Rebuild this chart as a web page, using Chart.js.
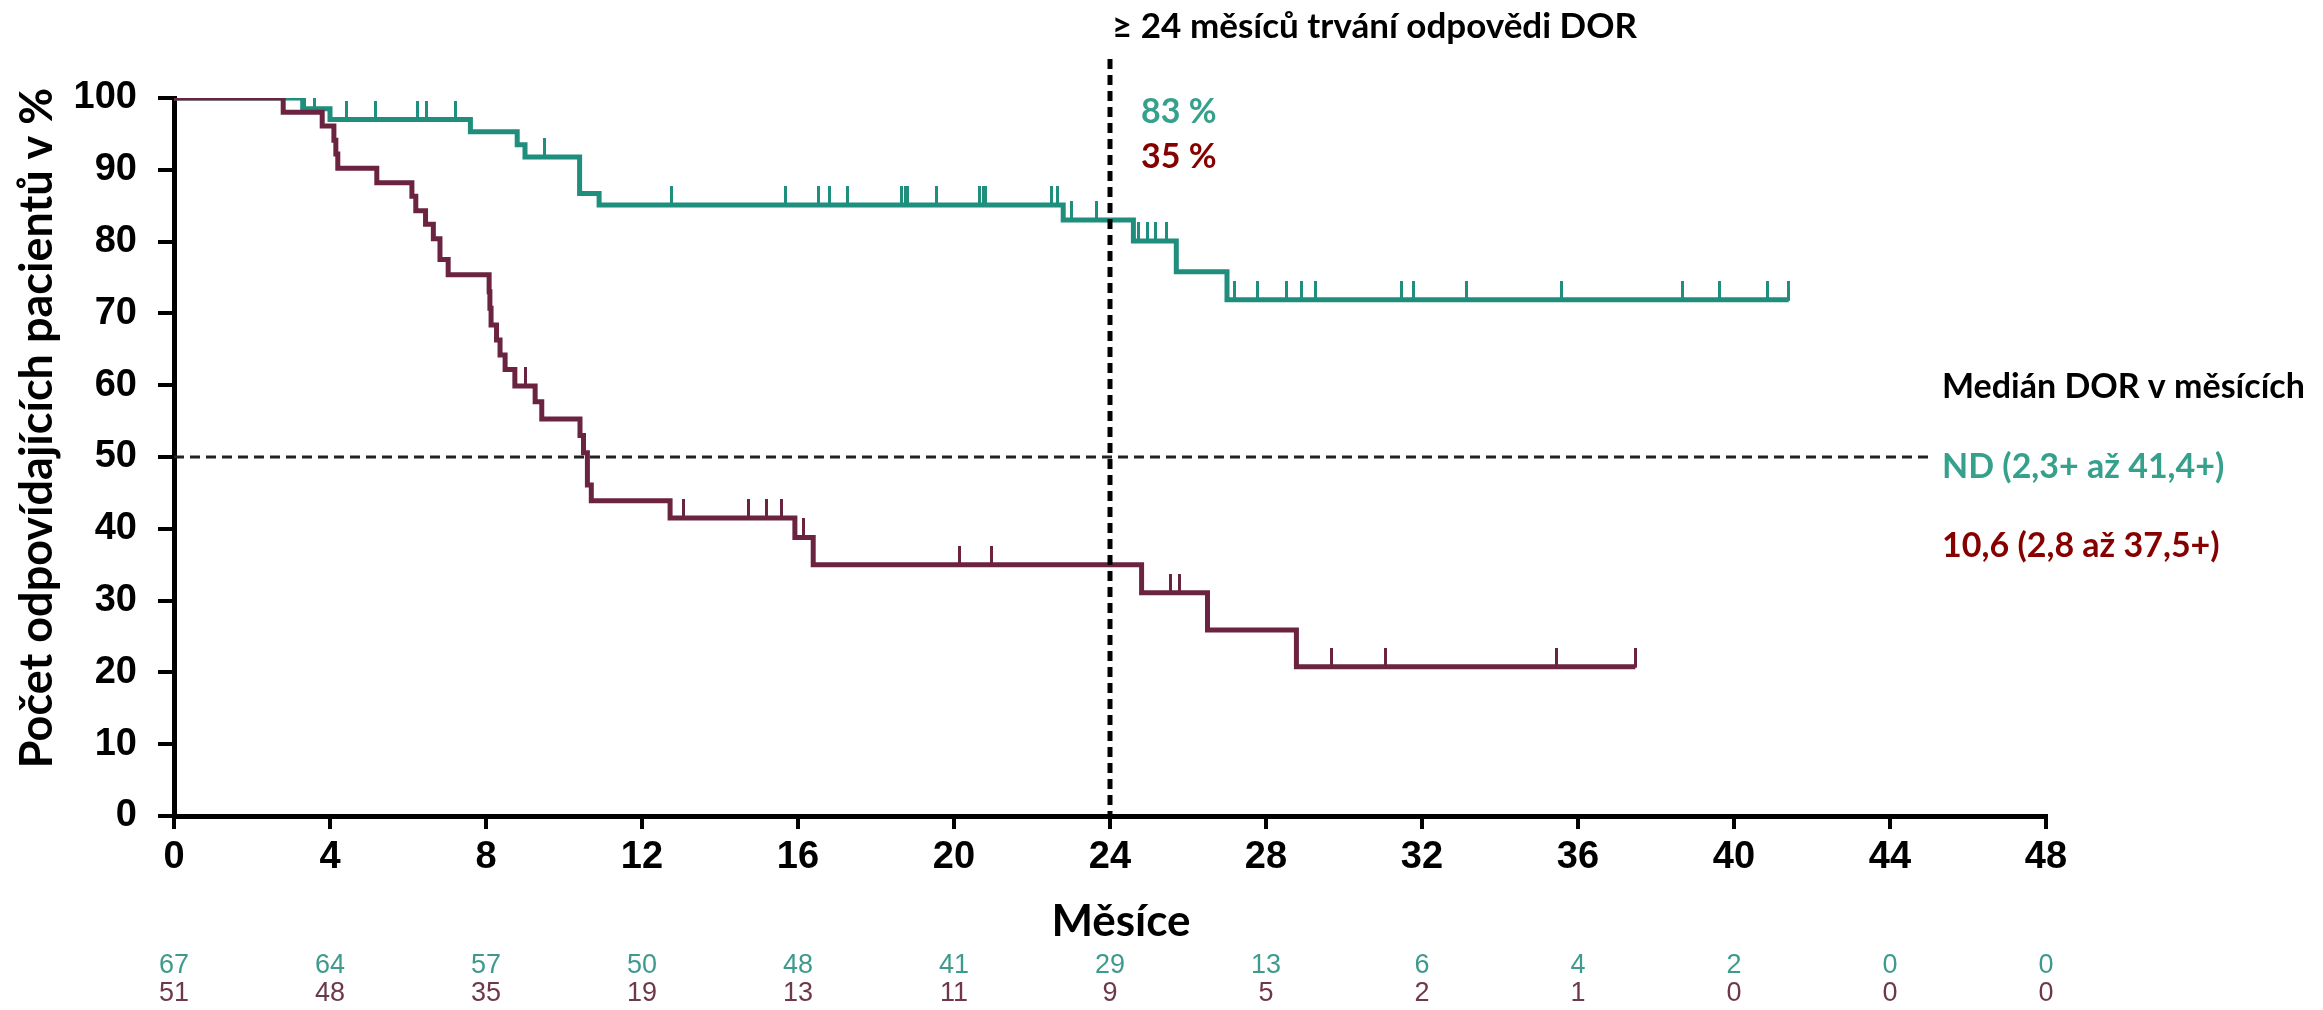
<!DOCTYPE html>
<html>
<head>
<meta charset="utf-8">
<script src="https://cdn.jsdelivr.net/npm/chart.js@4.4.1/dist/chart.umd.min.js"></script>
<style>
  html, body { margin: 0; padding: 0; background: #ffffff; }
  #wrap { width: 2323px; height: 1010px; position: relative; }
</style>
</head>
<body>
<div id="wrap"><canvas id="km" width="2323" height="1010"></canvas></div>
<script>
// Kaplan–Meier curves: event times (months) and survival after each event (%)
const tealTimes = [0, 3.3, 4.0, 7.6, 8.8, 9.0, 10.4, 10.9, 22.8, 24.6, 25.7, 27.0, 41.4];
const tealSurv  = [100, 98.5, 97.0, 95.3, 93.5, 91.8, 86.7, 85.1, 83.0, 80.1, 75.8, 71.9, 71.9];
const tealCensored = [2.3, 3.35, 3.6, 4.42, 5.16, 6.25, 6.48, 7.23, 9.5, 12.75, 15.67, 16.52, 16.82,
  17.28, 18.65, 18.75, 18.82, 19.56, 20.65, 20.75, 20.82, 22.51, 22.66, 23.0, 23.65,
  24.72, 24.97, 25.16, 25.46, 27.18, 27.79, 28.53, 28.9, 29.27, 31.47, 31.78, 33.13,
  35.58, 38.69, 39.63, 40.86, 41.41];

const maroonTimes = [0, 2.8, 3.8, 4.1, 4.15, 4.2, 5.2, 6.1, 6.2, 6.45, 6.65, 6.82, 7.03, 8.08, 8.1,
  8.13, 8.27, 8.36, 8.49, 8.74, 9.26, 9.43, 10.41, 10.5, 10.6, 10.7, 12.72, 15.92, 16.39,
  24.81, 26.5, 28.78, 37.47];
const maroonSurv = [100, 98.0, 96.1, 94.1, 92.2, 90.2, 88.2, 86.3, 84.3, 82.4, 80.4, 77.5, 75.4, 73.0, 70.7,
  68.4, 66.3, 64.2, 62.2, 59.9, 57.7, 55.3, 53.0, 50.6, 46.1, 43.9, 41.5, 38.8, 35.0,
  31.1, 25.9, 20.8, 20.8];
const maroonCensored = [9.0, 13.07, 14.73, 15.2, 15.58, 16.15, 20.14, 20.95, 25.55, 25.77,
  29.67, 31.06, 35.45, 37.47];

// Number at risk table
const monthTicks   = [0, 4, 8, 12, 16, 20, 24, 28, 32, 36, 40, 44, 48];
const tealAtRisk   = [67, 64, 57, 50, 48, 41, 29, 13, 6, 4, 2, 0, 0];
const maroonAtRisk = [51, 48, 35, 19, 13, 11, 9, 5, 2, 1, 0, 0, 0];

const percentTicks = [0, 10, 20, 30, 40, 50, 60, 70, 80, 90, 100];
const landmarkMonth = 24;
const medianLevel = 50;
const medianLineEnd = 45.1;

const tealMedianText = 'ND (2,3+ až 41,4+)';
const maroonMedianText = '10,6 (2,8 až 37,5+)';

const TEAL = '#1f8e7d';
const MAROON = '#6b2440';
const TEAL_TEXT = '#35a08b';
const RED_TEXT = '#870000';
const TITLE_FONT = 'Lato, "Open Sans", sans-serif';
const TICK_FONT = '"Liberation Sans", Arial, sans-serif';

// survival value of a step curve at time t
function survAt(times, surv, t) {
  let v = surv[0];
  for (let i = 0; i < times.length; i++) {
    if (times[i] <= t) v = surv[i]; else break;
  }
  return v;
}

// censoring mark: short vertical stroke rising above the curve
function censorMark(color) {
  const c = document.createElement('canvas');
  c.width = 3; c.height = 38;
  const g = c.getContext('2d');
  g.fillStyle = color;
  g.fillRect(0, 0, 3, 20);
  return c;
}

const stepPoints = (times, surv) => times.map((t, i) => ({ x: t, y: surv[i] }));
const censorPoints = (cens, times, surv) => cens.map(t => ({ x: t, y: survAt(times, surv, t) }));

const overlay = {
  id: 'overlay',
  beforeDatasetsDraw(chart) {
    const { ctx, scales: { x, y } } = chart;
    ctx.save();
    ctx.strokeStyle = '#222';
    ctx.lineWidth = 3;
    ctx.setLineDash([10, 6]);
    ctx.beginPath();
    ctx.moveTo(x.getPixelForValue(0), y.getPixelForValue(medianLevel));
    ctx.lineTo(x.getPixelForValue(medianLineEnd), y.getPixelForValue(medianLevel));
    ctx.stroke();
    ctx.restore();
  },
  afterDatasetsDraw(chart) {
    const { ctx, chartArea, scales: { x, y } } = chart;
    const xl = x.getPixelForValue(landmarkMonth);
    ctx.save();
    // landmark line at 24 months
    ctx.strokeStyle = '#000';
    ctx.lineWidth = 5;
    ctx.setLineDash([10, 6]);
    ctx.beginPath();
    ctx.moveTo(xl, 59);
    ctx.lineTo(xl, chartArea.bottom);
    ctx.stroke();
    ctx.setLineDash([]);

    ctx.textBaseline = 'middle';
    ctx.textAlign = 'left';
    ctx.fillStyle = '#000';
    ctx.font = `bold 35px ${TITLE_FONT}`;
    ctx.fillText('≥ 24 měsíců trvání odpovědi DOR', xl + 2, 27);

    ctx.font = `bold 34px ${TITLE_FONT}`;
    ctx.fillStyle = TEAL_TEXT;
    ctx.fillText(`${Math.round(survAt(tealTimes, tealSurv, landmarkMonth))} %`, xl + 31, 112);
    ctx.fillStyle = RED_TEXT;
    ctx.fillText(`${Math.round(survAt(maroonTimes, maroonSurv, landmarkMonth))} %`, xl + 31, 157);

    // median duration of response
    ctx.fillStyle = '#000';
    ctx.font = `bold 34px ${TITLE_FONT}`;
    ctx.fillText('Medián DOR v měsících', 1942, 387);
    ctx.fillStyle = TEAL_TEXT;
    ctx.fillText(tealMedianText, 1942, 467);
    ctx.fillStyle = RED_TEXT;
    ctx.fillText(maroonMedianText, 1942, 546);

    // axis titles
    ctx.fillStyle = '#000';
    ctx.textAlign = 'center';
    ctx.font = `bold 44px ${TITLE_FONT}`;
    ctx.fillText('Měsíce', 1121, 922);

    ctx.save();
    ctx.translate(37, 428);
    ctx.rotate(-Math.PI / 2);
    ctx.font = `bold 45px ${TITLE_FONT}`;
    ctx.fillText('Počet odpovídajících pacientů v %', 0, 0);
    ctx.restore();

    // numbers at risk
    ctx.font = `27px "Liberation Sans Narrow", ${TICK_FONT}`;
    monthTicks.forEach((m, i) => {
      const px = x.getPixelForValue(m);
      ctx.fillStyle = '#3f9a8e';
      ctx.fillText(String(tealAtRisk[i]), px, 966);
      ctx.fillStyle = '#6e3848';
      ctx.fillText(String(maroonAtRisk[i]), px, 994);
    });
    ctx.restore();
  }
};

new Chart(document.getElementById('km'), {
  type: 'line',
  data: {
    datasets: [
      {
        type: 'scatter',
        data: censorPoints(maroonCensored, maroonTimes, maroonSurv),
        pointStyle: censorMark(MAROON),
        pointRadius: 10,
        showLine: false
      },
      {
        data: stepPoints(maroonTimes, maroonSurv),
        stepped: 'before',
        borderColor: MAROON,
        borderWidth: 5,
        pointRadius: 0,
        fill: false
      },
      {
        type: 'scatter',
        data: censorPoints(tealCensored, tealTimes, tealSurv),
        pointStyle: censorMark(TEAL),
        pointRadius: 10,
        showLine: false
      },
      {
        data: stepPoints(tealTimes, tealSurv),
        stepped: 'before',
        borderColor: TEAL,
        borderWidth: 5,
        pointRadius: 0,
        fill: false
      }
    ]
  },
  options: {
    responsive: false,
    animation: false,
    devicePixelRatio: 1,
    layout: { padding: { left: 0, top: 98, right: 277, bottom: 0 } },
    plugins: { legend: { display: false }, tooltip: { enabled: false } },
    scales: {
      x: {
        type: 'linear',
        min: 0, max: 48,
        afterBuildTicks: s => { s.ticks = monthTicks.map(v => ({ value: v })); },
        afterFit: s => { s.height = 194; },
        ticks: { color: '#000', font: { family: TICK_FONT, size: 38, weight: 'bold' }, padding: 6, maxRotation: 0 },
        grid: { drawOnChartArea: false, color: '#000', lineWidth: 4, tickLength: 13 },
        border: { color: '#000', width: 5 }
      },
      y: {
        min: 0, max: 100,
        afterBuildTicks: s => { s.ticks = percentTicks.map(v => ({ value: v })); },
        afterFit: s => { s.width = 174; },
        ticks: { color: '#000', font: { family: TICK_FONT, size: 38, weight: 'bold' }, padding: 21 },
        grid: { drawOnChartArea: false, color: '#000', lineWidth: 4, tickLength: 16 },
        border: { color: '#000', width: 5 }
      }
    }
  },
  plugins: [overlay]
});
</script>
</body>
</html>
